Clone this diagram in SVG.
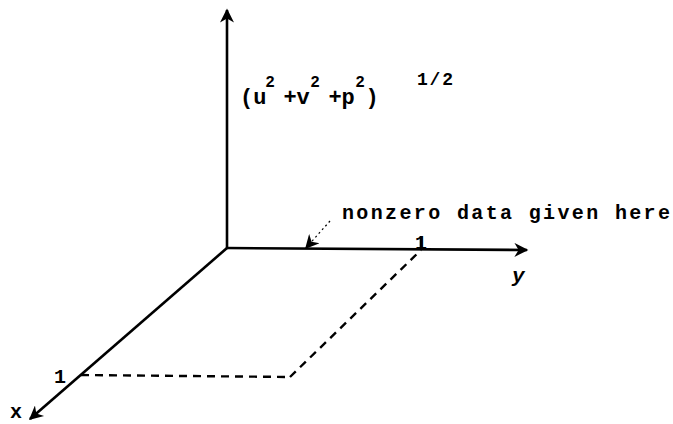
<svg xmlns="http://www.w3.org/2000/svg" width="673" height="424" viewBox="0 0 673 424">
<style>
.ax{stroke:#000;stroke-width:2.6;fill:none}
.da{stroke:#000;stroke-width:2.4;fill:none;stroke-dasharray:8 6}
.dt{stroke:#000;stroke-width:1.2;fill:none;stroke-dasharray:2 3}
.t{font-family:"Liberation Mono","DejaVu Sans Mono",monospace;fill:#000;font-weight:bold}
.m{font-size:22px;text-anchor:middle}
.s{font-size:16px;text-anchor:middle}
</style>
<defs>
<marker id="ahb" viewBox="0 0 10 10" refX="9" refY="5" markerWidth="16" markerHeight="14" orient="auto" markerUnits="userSpaceOnUse">
<path d="M0,0 L10,5 L0,10 L3,5 Z" fill="#000"/>
</marker>
</defs>
<g id="connectors">
<line class="ax" x1="227" y1="248" x2="227" y2="10" marker-end="url(#ahb)"/>
<line class="ax" x1="226" y1="248" x2="527" y2="250" marker-end="url(#ahb)"/>
<line class="ax" x1="227" y1="248" x2="30" y2="419" marker-end="url(#ahb)"/>
<line class="ax" x1="421" y1="236" x2="421" y2="250" stroke-width="2"/>
<line class="da" x1="81" y1="375" x2="290" y2="377"/>
<line class="da" x1="290" y1="377" x2="421" y2="250"/>
<line class="dt" x1="330" y1="221" x2="306" y2="248" marker-end="url(#ahb)"/>
</g>
<g id="label-z" class="t">
<text x="240" y="104" font-size="22">(u</text>
<text class="s" x="270" y="87">2</text>
<text class="m" x="290" y="104">+</text>
<text class="m" x="303" y="104">v</text>
<text class="s" x="315" y="87">2</text>
<text class="m" x="335" y="104">+</text>
<text class="m" x="348" y="104">p</text>
<text class="s" x="360" y="87">2</text>
<text class="m" x="372" y="104">)</text>
<text x="417" y="85" font-size="18" textLength="36" lengthAdjust="spacing">1/2</text>
</g>
<g id="label-note">
<text class="t" font-size="20" x="342" y="219" textLength="328" lengthAdjust="spacing">nonzero data given here</text>
</g>
<g id="tick-y"><text class="t" font-size="20" x="415" y="249">1</text></g>
<g id="label-y"><text class="t" font-size="21" x="512" y="282" font-style="italic" font-weight="normal">y</text></g>
<g id="tick-x"><text class="t" font-size="20" x="54" y="383">1</text></g>
<g id="label-x"><text class="t" font-size="20" x="10" y="418" font-weight="normal">x</text></g>
</svg>
